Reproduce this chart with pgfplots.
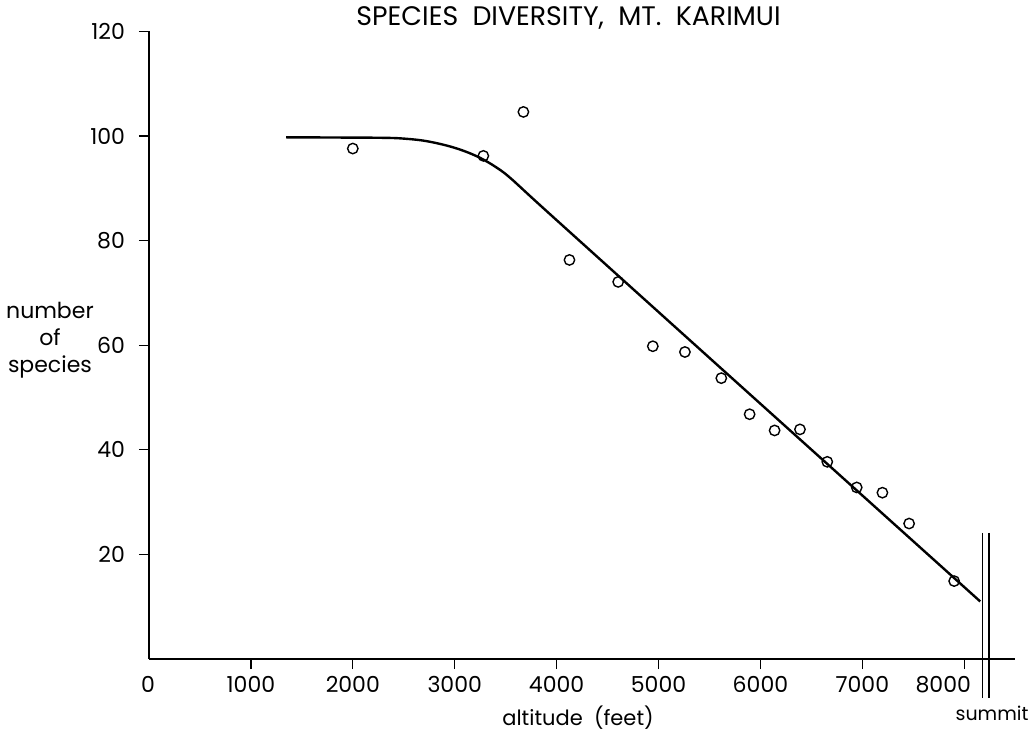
\documentclass[border=0pt]{standalone}
\usepackage{fontspec}
\setmainfont{Poppins}
\usepackage{pgfplots}
\pgfplotsset{compat=1.18}

% observed species counts along the altitudinal transect
\pgfplotstableread{
alt   n
2000  97.6
3281  96.2
3674  104.6
4126  76.3
4604  72.1
4944  59.8
5259  58.7
5616  53.7
5894  46.8
6139  43.7
6388  43.9
6656  37.7
6945  32.8
7197  31.8
7459  25.9
7901  14.9
}\observed

% hand-fitted trend curve: plateau, bend, then straight decline to the summit
\pgfplotstableread{
alt   n
1346  99.75
1900  99.7
2300  99.65
2500  99.5
2728  99.0
2989  97.8
3219  96.1
3416  93.9
3579  91.4
3972  84.4
6000  48.8
8157  11.0
}\trend

\begin{document}
\begin{tikzpicture}
\begin{axis}[
  scale only axis,
  width=433.1pt, height=313.8pt,
  xmin=0, xmax=8500,
  ymin=0, ymax=120,
  axis lines*=left,
  axis line style={line width=0.6pt},
  clip=false,
  xtick={1000,2000,3000,4000,5000,6000,7000},
  extra x ticks={8000},
  extra x tick style={xticklabel style={xshift=-10.5pt}},
  ytick={20,40,60,80,100,120},
  yticklabel style={xshift=-3.5pt},
  tick align=outside,
  major tick length=5pt,
  tick style={line width=0.6pt, black},
  tick label style={font=\fontsize{11}{13}\selectfont},
  /pgf/number format/assume math mode=true,
  /pgf/number format/set thousands separator={},
]
\addplot[line width=1.2pt, smooth, tension=0.6] table[x=alt, y=n] {\trend};
\addplot[only marks, mark=o, mark size=2.6pt, mark options={line width=0.7pt, fill=white}] table[x=alt, y=n] {\observed};

% summit break on the altitude axis
\draw[line width=0.9pt] (axis cs:8180,24.1) -- (axis cs:8180,-7.5);
\draw[line width=0.9pt] (axis cs:8245,24.1) -- (axis cs:8245,-7.5);

\node[font=\fontsize{11}{13}\selectfont] at (axis cs:-10,-4.9) {0};
\node[font=\fontsize{13.4}{16}\selectfont] at (axis cs:4117,122.6) {SPECIES\ \ DIVERSITY,\ \ MT.\ \ KARIMUI};
\node[font=\fontsize{10.5}{13}\selectfont] at (axis cs:4210,-11.3) {altitude\ \ (feet)};
\node[font=\fontsize{9.5}{11}\selectfont] at (axis cs:8273,-10.3) {summit};
\node[font=\fontsize{11}{13.5}\selectfont, align=center] at (axis cs:-972,61.0) {number\\of\\species};
\end{axis}
\pgfresetboundingbox
\path[use as bounding box] (-74.5pt,-36.5pt) rectangle (443.5pt,329.5pt);
\end{tikzpicture}
\end{document}
